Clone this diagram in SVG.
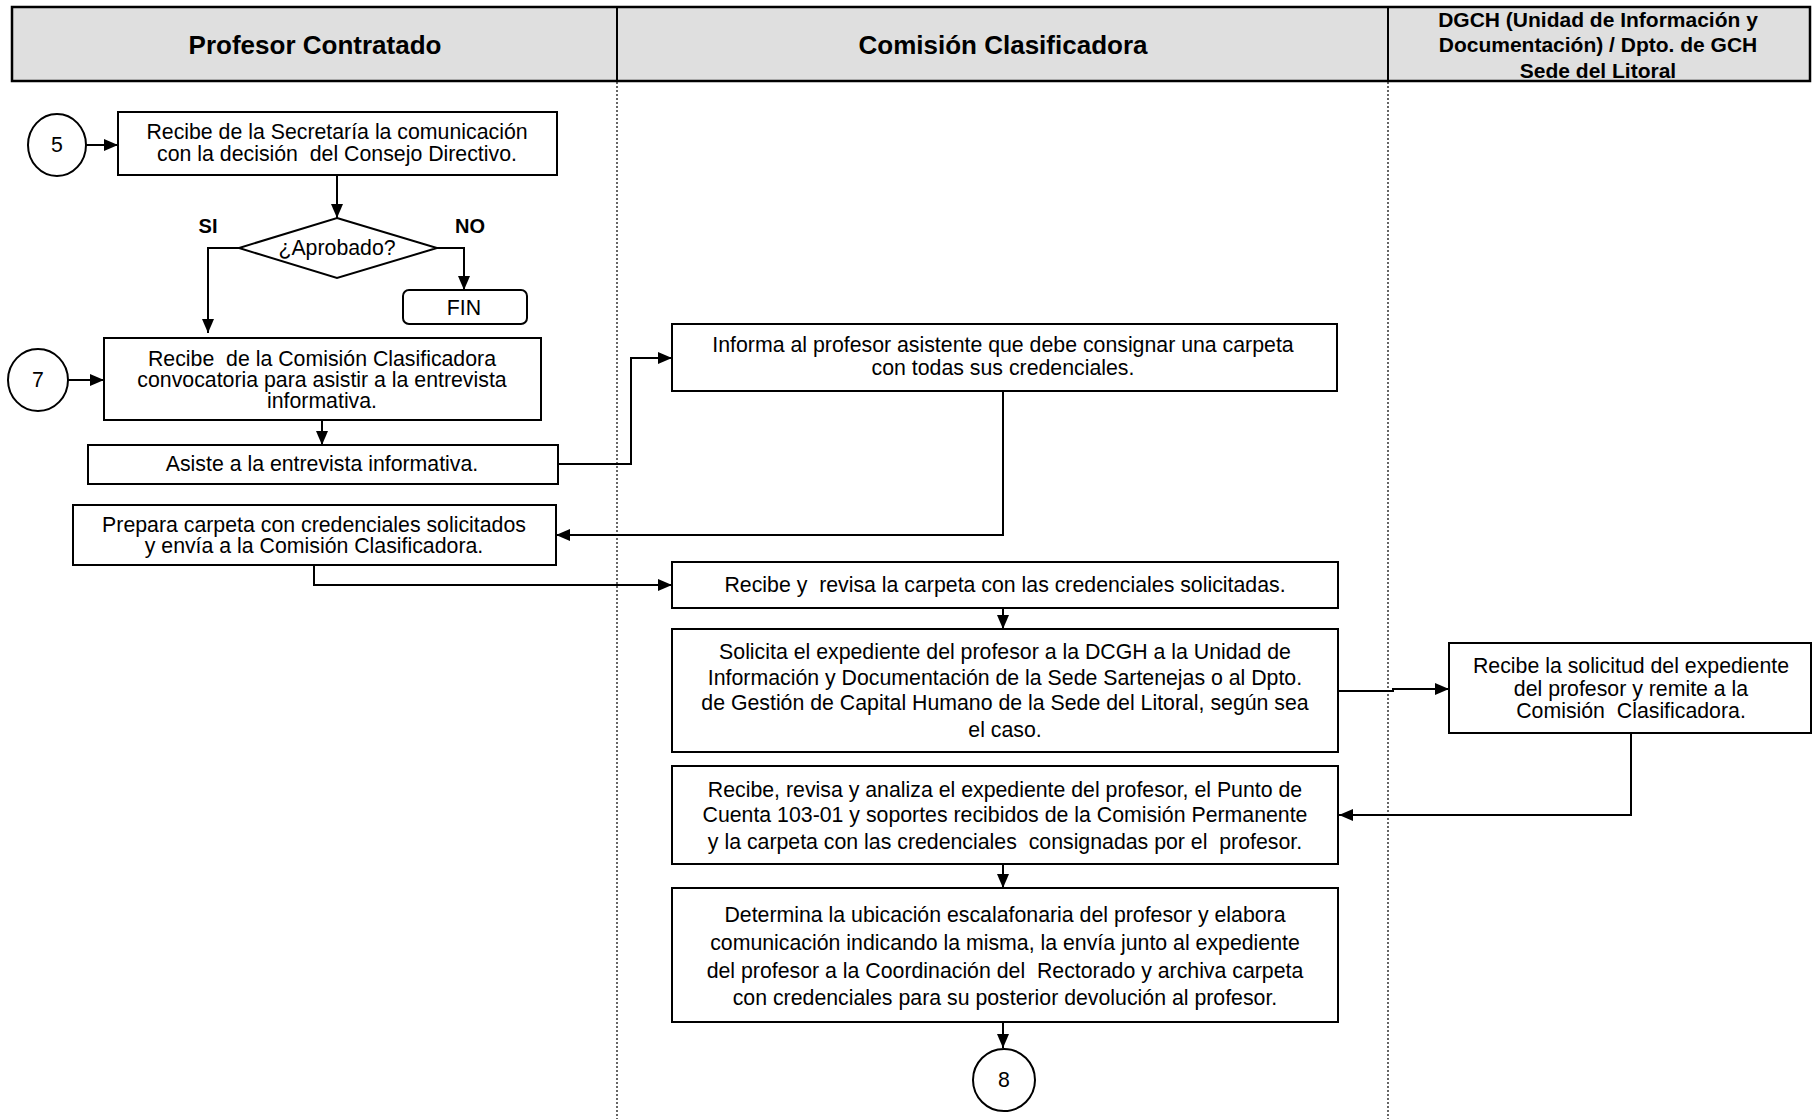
<svg xmlns="http://www.w3.org/2000/svg" width="1816" height="1119" viewBox="0 0 1816 1119">
  <style>
    .box { fill: #ffffff; stroke: #000000; stroke-width: 2; }
    .hdr { fill: #dfdfdf; stroke: #000000; stroke-width: 2.5; }
    .lane { stroke: #000000; stroke-width: 1.2; stroke-dasharray: 2 2; fill: none; }
    .conn { fill: none; stroke: #000000; stroke-width: 2; }
    text { font-family: "Liberation Sans", Arial, sans-serif; fill: #000000; white-space: pre; }
    .t { font-size: 21.3px; text-anchor: middle; }
    .h { font-size: 26px; font-weight: bold; text-anchor: middle; }
    .h2 { font-size: 21px; font-weight: bold; text-anchor: middle; }
    .lbl { font-size: 20px; font-weight: bold; text-anchor: middle; }
  </style>
  <defs>
    <marker id="arrow" markerUnits="userSpaceOnUse" markerWidth="15" markerHeight="15" viewBox="0 0 15 15" refX="14" refY="7.5" orient="auto">
      <path d="M0,1.5 L14,7.5 L0,13.5 Z" fill="#000000"/>
    </marker>
  </defs>

  <!-- swimlane header -->
  <g id="header">
    <rect class="hdr" x="12" y="7" width="1798" height="74"/>
    <line x1="617" y1="7" x2="617" y2="81" stroke="#000" stroke-width="2"/>
    <line x1="1388" y1="7" x2="1388" y2="81" stroke="#000" stroke-width="2"/>
    <text class="h" x="315" y="54">Profesor Contratado</text>
    <text class="h" x="1003" y="54">Comisión Clasificadora</text>
    <text class="h2" x="1598" y="27">DGCH (Unidad de Información y</text>
    <text class="h2" x="1598" y="52">Documentación) / Dpto. de GCH</text>
    <text class="h2" x="1598" y="78">Sede del Litoral</text>
  </g>

  <!-- lane separators -->
  <g id="lanes">
    <line class="lane" x1="617" y1="82" x2="617" y2="1119"/>
    <line class="lane" x1="1388" y1="82" x2="1388" y2="1119"/>
  </g>

  <!-- connectors -->
  <g id="connectors">
    <path class="conn" d="M86,145 H118" marker-end="url(#arrow)"/>
    <path class="conn" d="M337,175 V218" marker-end="url(#arrow)"/>
    <path class="conn" d="M239,248 H208 V333" marker-end="url(#arrow)"/>
    <path class="conn" d="M437,248 H464 V290" marker-end="url(#arrow)"/>
    <path class="conn" d="M68,380 H104" marker-end="url(#arrow)"/>
    <path class="conn" d="M322,420 V445" marker-end="url(#arrow)"/>
    <path class="conn" d="M558,464 H631 V358 H672" marker-end="url(#arrow)"/>
    <path class="conn" d="M1003,391 V535 H556" marker-end="url(#arrow)"/>
    <path class="conn" d="M314,565 V585 H672" marker-end="url(#arrow)"/>
    <path class="conn" d="M1003,608 V629" marker-end="url(#arrow)"/>
    <path class="conn" d="M1338,691 H1393 V689 H1449" marker-end="url(#arrow)"/>
    <path class="conn" d="M1631,733 V815 H1339" marker-end="url(#arrow)"/>
    <path class="conn" d="M1003,864 V888" marker-end="url(#arrow)"/>
    <path class="conn" d="M1003,1022 V1048" marker-end="url(#arrow)"/>
  </g>

  <g id="conn5">
    <ellipse class="box" cx="57" cy="145" rx="29" ry="31"/>
    <text class="t" x="57" y="152">5</text>
  </g>

  <g id="recibeComunicacion">
    <rect class="box" x="118" y="112" width="439" height="63"/>
    <text class="t" x="337" y="139">Recibe de la Secretaría la comunicación</text>
    <text class="t" x="337" y="161">con la decisión  del Consejo Directivo.</text>
  </g>

  <g id="aprobado">
    <polygon class="box" points="337,218 437,248 337,278 239,248"/>
    <text class="t" x="337" y="255">¿Aprobado?</text>
    <text class="lbl" x="208" y="233">SI</text>
    <text class="lbl" x="470" y="233">NO</text>
  </g>

  <g id="fin">
    <rect class="box" x="403" y="290" width="124" height="34" rx="6" ry="6"/>
    <text class="t" x="464" y="315">FIN</text>
  </g>

  <g id="conn7">
    <ellipse class="box" cx="38" cy="380" rx="30" ry="31"/>
    <text class="t" x="38" y="387">7</text>
  </g>

  <g id="recibeConvocatoria">
    <rect class="box" x="104" y="338" width="437" height="82"/>
    <text class="t" x="322" y="366">Recibe  de la Comisión Clasificadora</text>
    <text class="t" x="322" y="387">convocatoria para asistir a la entrevista</text>
    <text class="t" x="322" y="408">informativa.</text>
  </g>

  <g id="asisteEntrevista">
    <rect class="box" x="88" y="445" width="470" height="39"/>
    <text class="t" x="322" y="471">Asiste a la entrevista informativa.</text>
  </g>

  <g id="informaProfesor">
    <rect class="box" x="672" y="324" width="665" height="67"/>
    <text class="t" x="1003" y="352">Informa al profesor asistente que debe consignar una carpeta</text>
    <text class="t" x="1003" y="375">con todas sus credenciales.</text>
  </g>

  <g id="preparaCarpeta">
    <rect class="box" x="73" y="505" width="483" height="60"/>
    <text class="t" x="314" y="532">Prepara carpeta con credenciales solicitados</text>
    <text class="t" x="314" y="553">y envía a la Comisión Clasificadora.</text>
  </g>

  <g id="revisaCarpeta">
    <rect class="box" x="672" y="562" width="666" height="46"/>
    <text class="t" x="1005" y="592">Recibe y  revisa la carpeta con las credenciales solicitadas.</text>
  </g>

  <g id="solicitaExpediente">
    <rect class="box" x="672" y="629" width="666" height="123"/>
    <text class="t" x="1005" y="659">Solicita el expediente del profesor a la DCGH a la Unidad de</text>
    <text class="t" x="1005" y="685">Información y Documentación de la Sede Sartenejas o al Dpto.</text>
    <text class="t" x="1005" y="710">de Gestión de Capital Humano de la Sede del Litoral, según sea</text>
    <text class="t" x="1005" y="737">el caso.</text>
  </g>

  <g id="remiteExpediente">
    <rect class="box" x="1449" y="643" width="362" height="90"/>
    <text class="t" x="1631" y="673">Recibe la solicitud del expediente</text>
    <text class="t" x="1631" y="696">del profesor y remite a la</text>
    <text class="t" x="1631" y="718">Comisión  Clasificadora.</text>
  </g>

  <g id="analizaExpediente">
    <rect class="box" x="672" y="766" width="666" height="98"/>
    <text class="t" x="1005" y="797">Recibe, revisa y analiza el expediente del profesor, el Punto de</text>
    <text class="t" x="1005" y="822">Cuenta 103-01 y soportes recibidos de la Comisión Permanente</text>
    <text class="t" x="1005" y="849">y la carpeta con las credenciales  consignadas por el  profesor.</text>
  </g>

  <g id="determinaUbicacion">
    <rect class="box" x="672" y="888" width="666" height="134"/>
    <text class="t" x="1005" y="922">Determina la ubicación escalafonaria del profesor y elabora</text>
    <text class="t" x="1005" y="950">comunicación indicando la misma, la envía junto al expediente</text>
    <text class="t" x="1005" y="978">del profesor a la Coordinación del  Rectorado y archiva carpeta</text>
    <text class="t" x="1005" y="1005">con credenciales para su posterior devolución al profesor.</text>
  </g>

  <g id="conn8">
    <ellipse class="box" cx="1004" cy="1080" rx="31" ry="31"/>
    <text class="t" x="1004" y="1087">8</text>
  </g>
</svg>
